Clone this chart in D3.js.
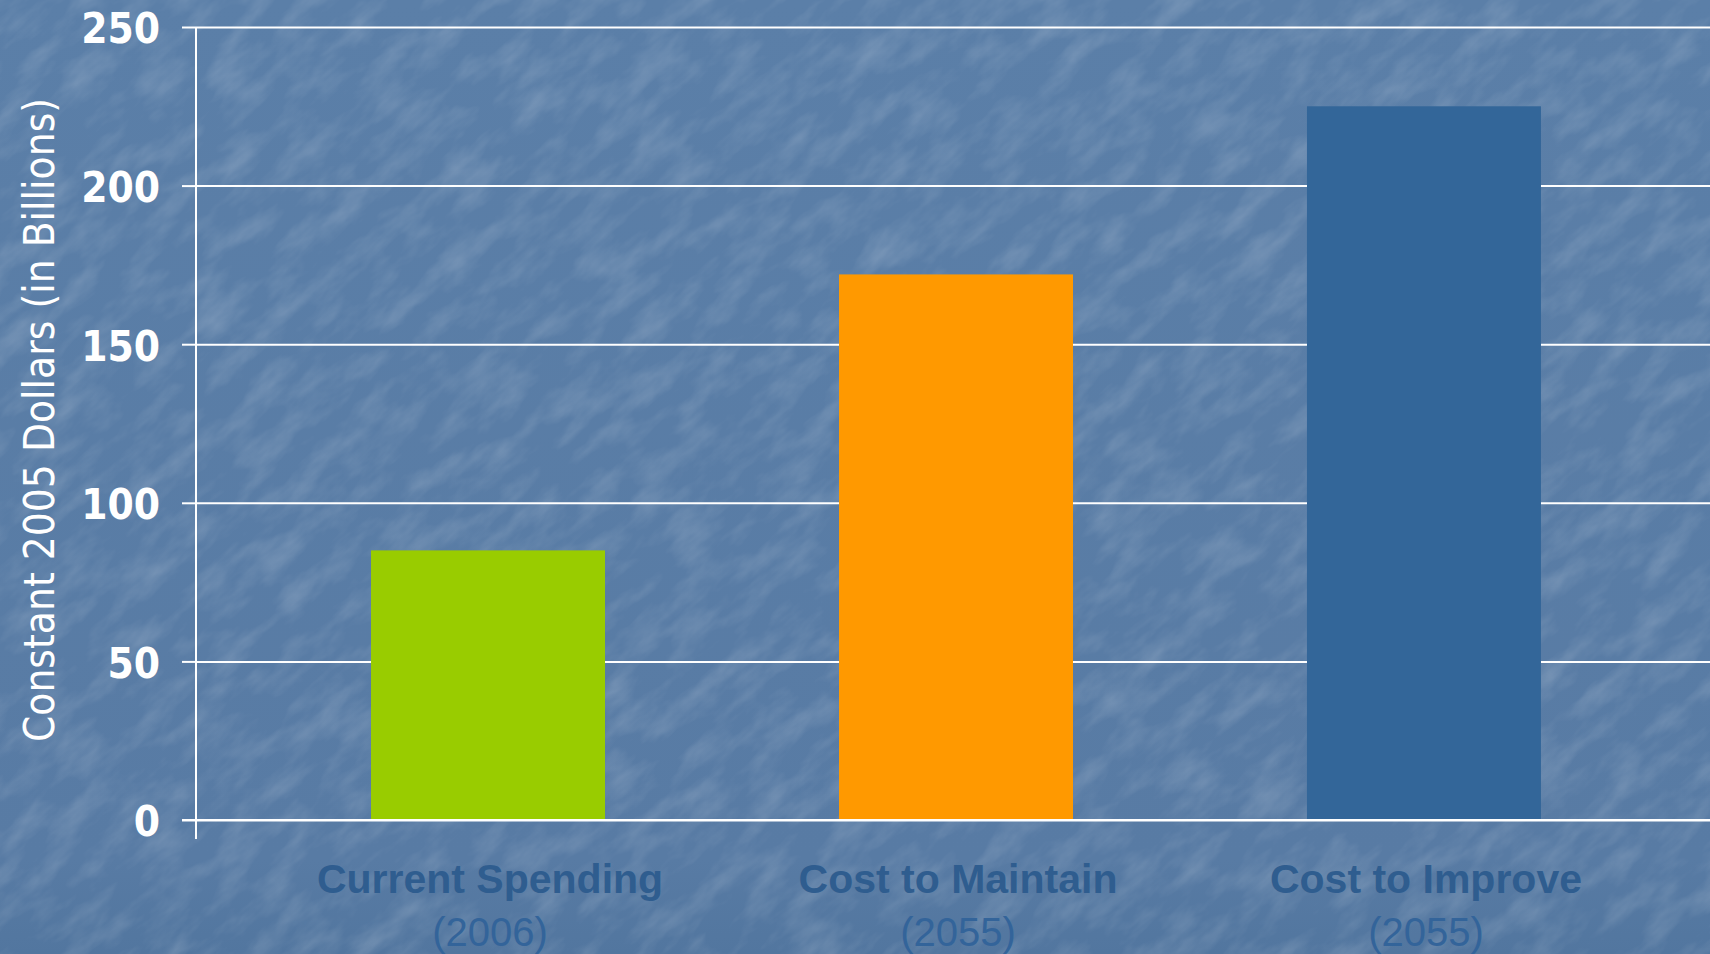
<!DOCTYPE html>
<html>
<head>
<meta charset="utf-8">
<title>Infrastructure spending</title>
<script src="https://cdn.jsdelivr.net/npm/d3@7"></script>
<style>
  html, body { margin: 0; padding: 0; overflow: hidden; background: #5a7ca4; }
</style>
</head>
<body>
<script>
  // chart values
  var categories = ["Current Spending", "Cost to Maintain", "Cost to Improve"];
  var years = ["(2006)", "(2055)", "(2055)"];
  var values = [85, 172, 225];
  var barColors = ["#99cc00", "#ff9900", "#336699"];
  var yTicks = [0, 50, 100, 150, 200, 250];

  var W = 1710, H = 954;

  var svg = d3.select("body").append("svg")
      .attr("width", W)
      .attr("height", H);

  // textured blue background
  var defs = svg.append("defs");
  var f = defs.append("filter").attr("id", "marble")
      .attr("x", 0).attr("y", 0).attr("width", "100%").attr("height", "100%");
  f.append("feTurbulence")
      .attr("type", "fractalNoise")
      .attr("baseFrequency", "0.018 0.045")
      .attr("numOctaves", 4)
      .attr("seed", 7)
      .attr("result", "noise");
  f.append("feColorMatrix")
      .attr("in", "noise")
      .attr("type", "matrix")
      .attr("values", "0 0 0 0 1  0 0 0 0 1  0 0 0 0 1  0 0 0 1.1 -0.45");

  var grad = defs.append("linearGradient").attr("id", "bg")
      .attr("x1", 0).attr("y1", 0).attr("x2", 0).attr("y2", 1);
  grad.append("stop").attr("offset", "0%").attr("stop-color", "#5b7fa8");
  grad.append("stop").attr("offset", "90%").attr("stop-color", "#587ba4");
  grad.append("stop").attr("offset", "100%").attr("stop-color", "#52769f");

  svg.append("rect").attr("width", W).attr("height", H).attr("fill", "url(#bg)");
  svg.append("g").attr("transform", "rotate(-40 855 477)")
    .append("rect")
      .attr("x", -500).attr("y", -500).attr("width", W + 1000).attr("height", H + 1000)
      .attr("filter", "url(#marble)")
      .attr("opacity", 0.28);

  var x0 = 196;
  var x = d3.scaleBand()
      .domain(categories)
      .range([x0, 1716])
      .paddingInner(0.5)
      .paddingOuter(0.374);

  var y = d3.scaleLinear()
      .domain([0, 250])
      .range([820, 27]);

  // grid lines
  svg.append("g")
      .attr("transform", "translate(" + x0 + ",0)")
      .call(d3.axisLeft(y).tickValues(yTicks).tickSize(-(W - x0)).tickFormat(""))
      .call(function (g) {
        g.select(".domain").remove();
        g.selectAll("line").attr("stroke", "#ffffff").attr("stroke-width", 2);
      });

  // bars
  svg.append("g").selectAll("rect")
      .data(values)
      .enter()
      .append("rect")
      .attr("x", function (d, i) { return x(categories[i]); })
      .attr("y", function (d) { return y(d); })
      .attr("width", x.bandwidth())
      .attr("height", function (d) { return y(0) - y(d); })
      .attr("fill", function (d, i) { return barColors[i]; });

  // zero line on top of bars
  svg.append("line")
      .attr("x1", x0 - 14).attr("x2", W)
      .attr("y1", y(0)).attr("y2", y(0))
      .attr("stroke", "#ffffff").attr("stroke-width", 2);

  // y axis with ticks and labels
  svg.append("g")
      .attr("transform", "translate(" + x0 + ",0)")
      .call(d3.axisLeft(y).tickValues(yTicks).tickSize(14).tickPadding(22))
      .call(function (g) {
        g.select(".domain").remove();
        g.selectAll("line").attr("stroke", "#ffffff").attr("stroke-width", 2);
        g.selectAll("text")
          .attr("fill", "#ffffff")
          .attr("dy", "0.38em")
          .style("font-family", "'DejaVu Sans Condensed', 'DejaVu Sans', sans-serif")
          .style("font-stretch", "condensed")
          .style("font-weight", "bold")
          .style("font-size", "42px");
      });

  svg.append("line")
      .attr("x1", x0).attr("x2", x0)
      .attr("y1", y(250)).attr("y2", y(0) + 19)
      .attr("stroke", "#ffffff").attr("stroke-width", 2);

  // y axis title
  svg.append("text")
      .attr("transform", "translate(54," + 420 + ") rotate(-90)")
      .attr("text-anchor", "middle")
      .attr("fill", "#ffffff")
      .style("font-family", "'DejaVu Sans Condensed', 'DejaVu Sans', sans-serif")
      .style("font-stretch", "condensed")
      .style("font-size", "42px")
      .text("Constant 2005 Dollars (in Billions)");

  // category labels
  var labels = svg.append("g").selectAll("g")
      .data(categories)
      .enter()
      .append("g")
      .attr("transform", function (d) {
        return "translate(" + (x(d) + x.bandwidth() / 2 + 2) + ",0)";
      });

  labels.append("text")
      .attr("y", 893)
      .attr("text-anchor", "middle")
      .attr("fill", "#2f5d8f")
      .style("font-family", "'Liberation Sans', Arial, sans-serif")
      .style("font-weight", "bold")
      .style("font-size", "41px")
      .text(function (d) { return d; });

  labels.append("text")
      .attr("y", 946)
      .attr("text-anchor", "middle")
      .attr("fill", "#33649a")
      .style("font-family", "'Liberation Sans', Arial, sans-serif")
      .style("font-size", "40px")
      .text(function (d, i) { return years[i]; });
</script>
</body>
</html>
